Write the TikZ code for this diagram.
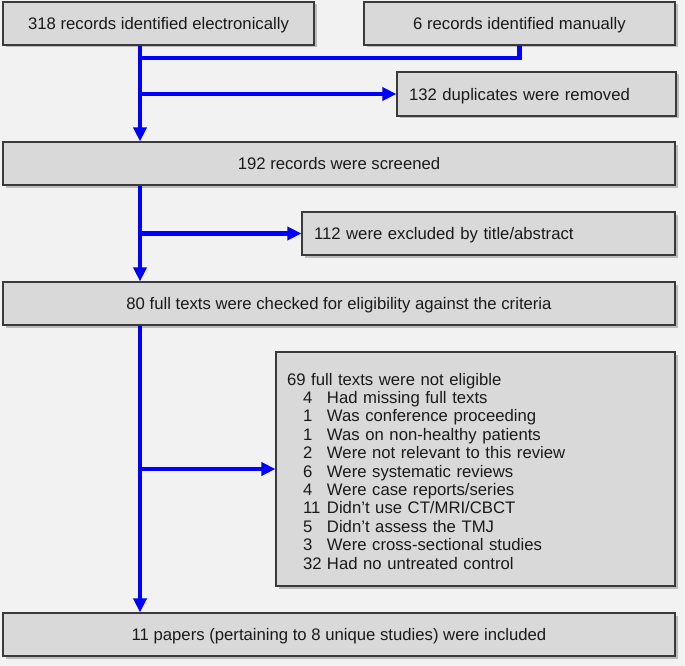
\documentclass[tikz,border=0pt]{standalone}
\usepackage{fontspec}
\setmainfont{Liberation Sans}
\usetikzlibrary{arrows.meta,shadows}
\definecolor{bg}{HTML}{F2F2F2}
\definecolor{boxfill}{HTML}{D9D9D9}
\definecolor{boxline}{HTML}{3A3A3A}
\definecolor{txt}{HTML}{1A1A1A}
\definecolor{flowblue}{HTML}{0000FF}
\begin{document}
\begin{tikzpicture}[x=1pt,y=-1pt,
  basebox/.style={draw=boxline, line width=1.2pt, fill=boxfill, text=txt,
    font=\fontsize{16.7}{18.4}\selectfont, inner sep=0pt,
    drop shadow={shadow xshift=2.5pt, shadow yshift=-2.5pt, opacity=0.22, fill=black}},
  box/.style={basebox, text depth=0pt},
  flow/.style={draw=flowblue, line width=4.5pt},
  arr/.style={flow, -{Triangle[length=14pt,width=13pt]}}]
\fill[bg] (0,0) rectangle (685,666);
\useasboundingbox (0,0) rectangle (685,666);

\node[box, minimum width=311pt, minimum height=43pt] (b1) at (158.5,23.5) {318 records identified electronically};
\node[box, minimum width=311pt, minimum height=43pt] (b2) at (519.5,23.5) {6 records identified manually};
\node[box, minimum height=44pt, text width=255pt, inner xsep=12pt, align=left] (b132) at (536.5,94) {132 duplicates were removed};
\node[box, minimum width=672pt, minimum height=43pt] (b192) at (339,163.5) {192 records were screened};
\node[box, minimum height=43pt, text width=349pt, inner xsep=12pt, align=left] (b112) at (488.5,233.5) {112 were excluded by title/abstract};
\node[box, minimum width=672pt, minimum height=43pt] (b80) at (339,303.5) {80 full texts were checked for eligibility against the criteria};
\node[basebox, minimum height=234pt, text width=377pt, inner xsep=11pt, align=left] (b69) at (475.5,469) {%
\raisebox{-4.5pt}[\height][\depth]{%
\begin{tabular}{@{\hspace{16pt}}p{24pt}@{}l@{}}
\multicolumn{2}{@{}l@{}}{69 full texts were not eligible}\\
4 & Had missing full texts\\
1 & Was conference proceeding\\
1 & Was on non-healthy patients\\
2 & Were not relevant to this review\\
6 & Were systematic reviews\\
4 & Were case reports/series\\
11 & Didn’t use CT/MRI/CBCT\\
5 & Didn’t assess the TMJ\\
3 & Were cross-sectional studies\\
32 & Had no untreated control
\end{tabular}}};
\node[box, minimum width=672pt, minimum height=43pt] (bfin) at (339,634.5) {11 papers (pertaining to 8 unique studies) were included};

\coordinate (trunk) at (140,0);
\coordinate (j1) at (140,58);
\coordinate (j2) at (140,94);
\coordinate (j3) at (140,233.5);
\coordinate (j4) at (140,469);

\draw[arr] (b1.south -| trunk) -- (b192.north -| trunk);
\draw[flow] (b2.south) |- (j1);
\draw[arr] (j2) -- (b132.west);
\draw[arr] (b192.south -| trunk) -- (b80.north -| trunk);
\draw[arr] (j3) -- (b112.west);
\draw[arr] (b80.south -| trunk) -- (bfin.north -| trunk);
\draw[arr] (j4) -- (b69.west);
\end{tikzpicture}
\end{document}
